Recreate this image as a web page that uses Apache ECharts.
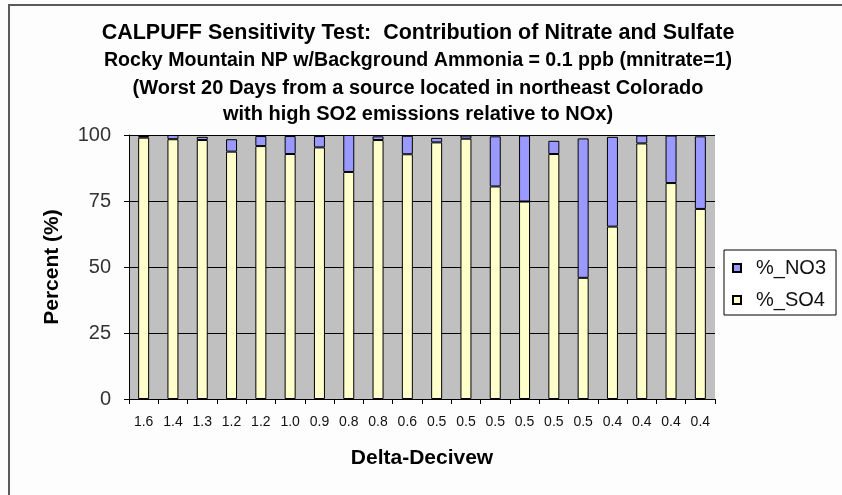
<!DOCTYPE html>
<html>
<head>
<meta charset="utf-8">
<script src="https://cdn.jsdelivr.net/npm/echarts@6/dist/echarts.min.js"></script>
<style>
html,body{margin:0;padding:0;background:#fdfdfd;}
#main{width:842px;height:495px;}
</style>
</head>
<body>
<div id="main"></div>
<script>
var categories = ['1.6','1.4','1.3','1.2','1.2','1.0','0.9','0.8','0.8','0.6','0.5','0.5','0.5','0.5','0.5','0.5','0.4','0.4','0.4','0.4'];
var so4 = [99.0, 98.4, 98.1, 93.7, 95.8, 92.8, 95.3, 86.0, 98.1, 92.7, 97.2, 98.6, 80.5, 74.8, 92.8, 45.9, 65.3, 96.8, 81.8, 72.0];
var no3 = [0.6, 1.6, 1.2, 4.7, 3.8, 6.8, 4.3, 14.0, 1.4, 7.0, 1.7, 1.2, 19.0, 25.0, 5.0, 52.8, 34.0, 3.0, 18.0, 27.5];
var yTicks = [0, 25, 50, 75, 100];
var titleLines = [
  'CALPUFF Sensitivity Test:  Contribution of Nitrate and Sulfate',
  'Rocky Mountain NP w/Background Ammonia = 0.1 ppb (mnitrate=1)',
  '(Worst 20 Days from a source located in northeast Colorado',
  'with high SO2 emissions relative to NOx)'
];

var FONT = 'Liberation Sans, Arial, sans-serif';
var chart = echarts.init(document.getElementById('main'));
var titleTops = [23, 51, 78, 104];
var titleSizes = [21.5, 19.6, 20, 20];

var option = {
  backgroundColor: '#fdfdfd',
  animation: false,
  title: titleLines.map(function (t, i) {
    return {
      text: t,
      left: 418,
      textAlign: 'center',
      top: titleTops[i],
      padding: 0,
      textStyle: {fontFamily: FONT, fontSize: titleSizes[i], fontWeight: 'bold', color: '#000', lineHeight: 20}
    };
  }),
  graphic: [{
    type: 'rect',
    shape: {x: 9, y: 5, width: 1000, height: 800},
    style: {fill: 'none', stroke: '#5a5a5a', lineWidth: 2},
    silent: true
  }],
  legend: {
    orient: 'vertical',
    left: 724,
    top: 250,
    width: 100,
    data: ['%_NO3', '%_SO4'],
    backgroundColor: '#ffffff',
    borderColor: '#000',
    borderWidth: 1,
    borderRadius: 0,
    padding: [8, 10, 5, 8],
    itemWidth: 8,
    itemHeight: 8,
    itemGap: 12,
    icon: 'rect',
    textStyle: {fontFamily: FONT, fontSize: 20, color: '#111', lineHeight: 20, padding: [0, 0, 0, 10]}
  },
  grid: {
    left: 129, right: 127, top: 135, bottom: 96,
    show: true, backgroundColor: '#c0c0c0', borderWidth: 0
  },
  xAxis: {
    type: 'category',
    data: categories,
    name: 'Delta-Decivew',
    nameLocation: 'middle',
    nameGap: 49,
    nameTextStyle: {fontFamily: FONT, fontSize: 21, fontWeight: 'bold', color: '#000'},
    axisLine: {lineStyle: {color: '#000', width: 1}},
    axisTick: {show: true, alignWithLabel: false, length: 5, lineStyle: {color: '#000'}},
    axisLabel: {interval: 0, fontFamily: FONT, fontSize: 14, color: '#111', margin: 16},
    splitLine: {show: false}
  },
  yAxis: {
    type: 'value',
    min: 0, max: 100, interval: 25,
    name: 'Percent (%)',
    nameLocation: 'middle',
    nameGap: 66,
    nameTextStyle: {fontFamily: FONT, fontSize: 21, fontWeight: 'bold', color: '#000'},
    axisLine: {show: true, lineStyle: {color: '#000', width: 1}},
    axisTick: {show: true, length: 5, lineStyle: {color: '#000'}},
    axisLabel: {fontFamily: FONT, fontSize: 20, color: '#333', margin: 18,
      formatter: function (v) { return yTicks.indexOf(v) >= 0 ? String(v) : ''; }},
    splitLine: {show: true, lineStyle: {color: '#000', width: 1}}
  },
  series: [
    {
      name: '%_SO4', type: 'bar', stack: 'total', data: so4, barWidth: 11,
      itemStyle: {color: '#ffffcc', borderColor: '#000', borderWidth: 1}
    },
    {
      name: '%_NO3', type: 'bar', stack: 'total', data: no3, barWidth: 11,
      itemStyle: {color: '#9999ff', borderColor: '#000', borderWidth: 1}
    }
  ]
};
chart.setOption(option);
</script>
</body>
</html>
